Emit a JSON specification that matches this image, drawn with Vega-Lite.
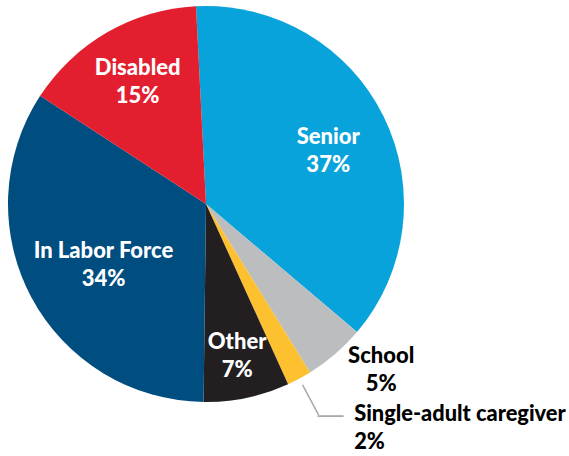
{
  "$schema": "https://vega.github.io/schema/vega-lite/v6.json",
  "width": 412,
  "height": 408,
  "autosize": {"type": "none"},
  "padding": {"left": 0, "top": 0, "right": 157, "bottom": 48},
  "background": "white",
  "config": {"view": {"stroke": null}},
  "data": {
    "values": [
      {"category": "Senior", "value": 37, "rank": 1},
      {"category": "School", "value": 5, "rank": 2},
      {"category": "Single-adult caregiver", "value": 2, "rank": 3},
      {"category": "Other", "value": 7, "rank": 4},
      {"category": "In Labor Force", "value": 34, "rank": 5},
      {"category": "Disabled", "value": 15, "rank": 6}
    ]
  },
  "transform": [
    {"stack": "value", "groupby": [], "sort": [{"field": "rank", "order": "ascending"}], "as": ["v0", "v1"]},
    {"calculate": "(datum.v0 + datum.v1) / 2", "as": "mid"},
    {"calculate": "datum.category + '\\n' + datum.value + '%'", "as": "label"}
  ],
  "layer": [
    {
      "mark": {"type": "arc", "radius": 198},
      "encoding": {
        "theta": {"field": "v0", "type": "quantitative", "scale": {"domain": [0, 100], "range": [-0.0506, 6.2326]}},
        "theta2": {"field": "v1"},
        "color": {
          "field": "category", "type": "nominal", "legend": null,
          "scale": {
            "domain": ["Senior", "School", "Single-adult caregiver", "Other", "In Labor Force", "Disabled"],
            "range": ["#09a3db", "#bbbdbf", "#fdc02f", "#231f20", "#004d80", "#e31e2f"]
          }
        }
      }
    },
    {
      "transform": [{"filter": "datum.category === 'Single-adult caregiver'"}],
      "mark": {"type": "arc", "radius": 239, "radius2": 205, "filled": false, "color": "#a7a9ac", "strokeWidth": 1.5},
      "encoding": {
        "theta": {"field": "mid", "type": "quantitative", "scale": {"domain": [0, 100], "range": [-0.0506, 6.2326]}},
        "theta2": {"field": "mid"}
      }
    },
    {
      "transform": [{"filter": "datum.category === 'Single-adult caregiver'"}],
      "mark": {"type": "text", "text": "—", "radius": 239, "align": "left", "baseline": "middle", "dx": -1, "dy": 0, "fontSize": 26, "font": "Liberation Sans", "color": "#a7a9ac"},
      "encoding": {
        "theta": {"field": "mid", "type": "quantitative", "scale": {"domain": [0, 100], "range": [-0.0506, 6.2326]}}
      }
    },
    {
      "transform": [{"filter": "datum.category === 'Senior'"}],
      "mark": {"type": "text", "radius": 133, "dx": 3, "dy": -8, "align": "center", "baseline": "middle", "lineBreak": "\n", "lineHeight": 28, "font": "Lato", "fontWeight": 900, "fontSize": 22, "color": "white"},
      "encoding": {
        "theta": {"field": "mid", "type": "quantitative", "scale": {"domain": [0, 100], "range": [-0.0506, 6.2326]}},
        "text": {"field": "label"}
      }
    },
    {
      "transform": [{"filter": "datum.category === 'Disabled'"}],
      "mark": {"type": "text", "radius": 139, "dx": 1, "dy": -15, "align": "center", "baseline": "middle", "lineBreak": "\n", "lineHeight": 28, "font": "Lato", "fontWeight": 900, "fontSize": 22, "color": "white"},
      "encoding": {
        "theta": {"field": "mid", "type": "quantitative", "scale": {"domain": [0, 100], "range": [-0.0506, 6.2326]}},
        "text": {"field": "label"}
      }
    },
    {
      "transform": [{"filter": "datum.category === 'In Labor Force'"}],
      "mark": {"type": "text", "radius": 119.6, "dx": 3, "dy": -9, "align": "center", "baseline": "middle", "lineBreak": "\n", "lineHeight": 28, "font": "Lato", "fontWeight": 900, "fontSize": 22, "color": "white"},
      "encoding": {
        "theta": {"field": "mid", "type": "quantitative", "scale": {"domain": [0, 100], "range": [-0.0506, 6.2326]}},
        "text": {"field": "label"}
      }
    },
    {
      "transform": [{"filter": "datum.category === 'Other'"}],
      "mark": {"type": "text", "radius": 155.8, "dx": -1, "dy": -14, "align": "center", "baseline": "middle", "lineBreak": "\n", "lineHeight": 28, "font": "Lato", "fontWeight": 900, "fontSize": 22, "color": "white"},
      "encoding": {
        "theta": {"field": "mid", "type": "quantitative", "scale": {"domain": [0, 100], "range": [-0.0506, 6.2326]}},
        "text": {"field": "label"}
      }
    },
    {
      "transform": [{"filter": "datum.category === 'School'"}],
      "mark": {"type": "text", "radius": 241, "dx": 18, "dy": -31, "align": "center", "baseline": "middle", "lineBreak": "\n", "lineHeight": 28, "font": "Lato", "fontWeight": 900, "fontSize": 22, "color": "black"},
      "encoding": {
        "theta": {"field": "mid", "type": "quantitative", "scale": {"domain": [0, 100], "range": [-0.0506, 6.2326]}},
        "text": {"field": "label"}
      }
    },
    {
      "transform": [{"filter": "datum.category === 'Single-adult caregiver'"}],
      "mark": {"type": "text", "radius": 253, "dx": 29, "dy": -13.5, "align": "left", "baseline": "middle", "lineBreak": "\n", "lineHeight": 28, "font": "Lato", "fontWeight": 900, "fontSize": 21.8, "color": "black"},
      "encoding": {
        "theta": {"field": "mid", "type": "quantitative", "scale": {"domain": [0, 100], "range": [-0.0506, 6.2326]}},
        "text": {"field": "label"}
      }
    }
  ]
}
